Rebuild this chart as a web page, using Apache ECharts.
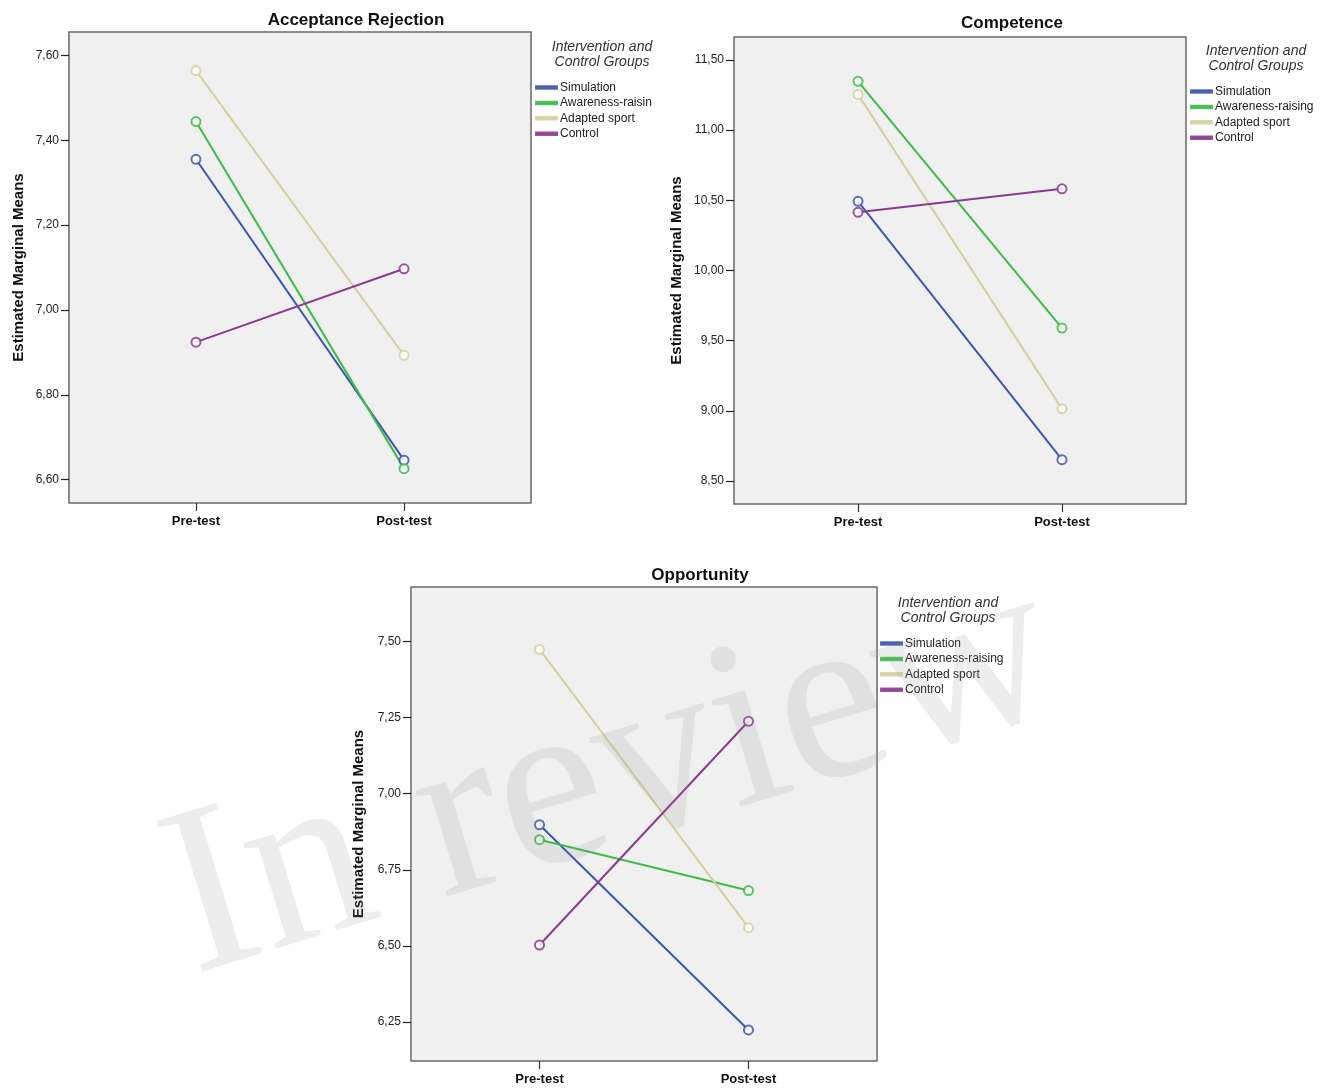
<!DOCTYPE html>
<html>
<head>
<meta charset="utf-8">
<script src="https://cdn.jsdelivr.net/npm/echarts@6/dist/echarts.min.js"></script>
<style>
html,body{margin:0;padding:0;background:#fff;}
#main{width:1338px;height:1092px;}
</style>
</head>
<body>
<div id="main"></div>
<script>
// ---- data ----
const categories = ['Pre-test', 'Post-test'];
const groupNames = ['Simulation', 'Awareness-raising', 'Adapted sport', 'Control'];
const groupNamesAcceptance = ['Simulation', 'Awareness-raisin', 'Adapted sport', 'Control'];
const groupColors = ['#3E56AE', '#3DBB47', '#D6D09C', '#8C3A90'];

const acceptanceSimulation = [7.355, 6.646];
const acceptanceAwareness = [7.444, 6.626];
const acceptanceAdapted = [7.564, 6.893];
const acceptanceControl = [6.924, 7.097];

const competenceSimulation = [10.493, 8.652];
const competenceAwareness = [11.348, 9.590];
const competenceAdapted = [11.255, 9.014];
const competenceControl = [10.415, 10.582];

const opportunitySimulation = [6.898, 6.224];
const opportunityAwareness = [6.849, 6.682];
const opportunityAdapted = [7.474, 6.560];
const opportunityControl = [6.503, 7.238];

const acceptanceTicks = [6.6, 6.8, 7.0, 7.2, 7.4, 7.6];
const competenceTicks = [8.5, 9.0, 9.5, 10.0, 10.5, 11.0, 11.5];
const opportunityTicks = [6.25, 6.5, 6.75, 7.0, 7.25, 7.5];

const chartTitles = ['Acceptance Rejection', 'Competence', 'Opportunity'];
const yAxisTitle = 'Estimated Marginal Means';
const legendTitle = 'Intervention and\nControl Groups';

// ---- layout ----
const panels = [
  {grid:{left:69, top:32, width:462, height:471}, ymin:6.545, ymax:7.655, xpad:0.61, ticks:acceptanceTicks,
   series:[acceptanceSimulation, acceptanceAwareness, acceptanceAdapted, acceptanceControl], names:groupNamesAcceptance,
   title:{x:351, y:7}, nameGap:43, legend:{left:535, top:81.5}, legTitle:{x:602, y:40}},
  {grid:{left:734, top:37, width:452, height:467}, ymin:8.336, ymax:11.664, xpad:0.608, ticks:competenceTicks,
   series:[competenceSimulation, competenceAwareness, competenceAdapted, competenceControl], names:groupNames,
   title:{x:1007, y:10}, nameGap:50, legend:{left:1190, top:85.5}, legTitle:{x:1256, y:44}},
  {grid:{left:411, top:587, width:466, height:474}, ymin:6.122, ymax:7.679, xpad:0.615, ticks:opportunityTicks,
   series:[opportunitySimulation, opportunityAwareness, opportunityAdapted, opportunityControl], names:groupNames,
   title:{x:695, y:562}, nameGap:45, legend:{left:880, top:637.5}, legTitle:{x:948, y:596}}
];

const fmt = v => v.toFixed(2).replace('.', ',');
const font = 'Liberation Sans, Arial, sans-serif';

const option = {
  animation: false,
  backgroundColor: '#ffffff',
  title: [], grid: [], xAxis: [], yAxis: [], series: [], legend: [], graphic: []
};

panels.forEach((p, k) => {
  option.grid.push(Object.assign({show:true, backgroundColor:'#F0F0F0', borderColor:'#6a6a6a', borderWidth:1.5, containLabel:false}, p.grid));
  option.title.push({
    text: chartTitles[k], left: p.title.x, top: p.title.y, textAlign: 'center',
    textStyle: {fontFamily: font, fontWeight: 'bold', fontSize: 17, color: '#111'}
  });
  option.xAxis.push({
    type: 'value', gridIndex: k, min: -p.xpad, max: 1 + p.xpad, position: 'bottom',
    axisLine: {show: false, onZero: false},
    splitLine: {show: false},
    axisTick: {show: true, length: 8, customValues: [0, 1], lineStyle: {color: '#333', width: 1.2}},
    axisLabel: {customValues: [0, 1], margin: 12, formatter: v => categories[Math.round(v)],
      fontFamily: font, fontWeight: 'bold', fontSize: 13, color: '#111'}
  });
  option.yAxis.push({
    type: 'value', gridIndex: k, min: p.ymin, max: p.ymax, position: 'left',
    name: yAxisTitle, nameLocation: 'middle', nameGap: p.nameGap,
    nameTextStyle: {fontFamily: font, fontWeight: 'bold', fontSize: 15, color: '#111'},
    axisLine: {show: false, onZero: false},
    splitLine: {show: false},
    axisTick: {show: true, length: 8, customValues: p.ticks, lineStyle: {color: '#222', width: 1.2}},
    axisLabel: {customValues: p.ticks, margin: 10, formatter: fmt,
      fontFamily: font, fontSize: 12, color: '#222'}
  });
  p.series.forEach((vals, i) => {
    option.series.push({
      type: 'line', name: p.names[i], xAxisIndex: k, yAxisIndex: k,
      data: vals.map((v, j) => [j, v]),
      symbol: 'emptyCircle', symbolSize: 9,
      lineStyle: {color: groupColors[i], width: 2},
      itemStyle: {color: groupColors[i], borderColor: groupColors[i], borderWidth: 1.2, opacity: 0.85},
      emphasis: {disabled: true}
    });
  });
  option.legend.push({
    orient: 'vertical', left: p.legend.left, top: p.legend.top,
    data: p.names.map((n, i) => ({name: n, itemStyle: {color: groupColors[i]}})),
    icon: 'rect', itemWidth: 21, itemHeight: 2.5, itemGap: 3.4,
    selectedMode: false, padding: 0,
    textStyle: {fontFamily: font, fontSize: 12, color: '#222', lineHeight: 12, padding: [0, 0, 0, -2]}
  });
  option.graphic.push({
    type: 'text', x: p.legTitle.x, y: p.legTitle.y,
    style: {text: legendTitle, font: 'italic 14px ' + font, fill: '#333', align: 'center', verticalAlign: 'top', lineHeight: 15}
  });
});

// watermark
option.graphic.push({
  type: 'text', x: 612, y: 780, rotation: 17 * Math.PI / 180, z: 100, silent: true,
  style: {text: 'In review', font: '240px "Liberation Serif", "DejaVu Serif", serif',
    fill: 'rgba(140,140,140,0.16)', align: 'center', verticalAlign: 'middle'}
});

const chart = echarts.init(document.getElementById('main'), null, {renderer: 'canvas'});
chart.setOption(option);
</script>
</body>
</html>
